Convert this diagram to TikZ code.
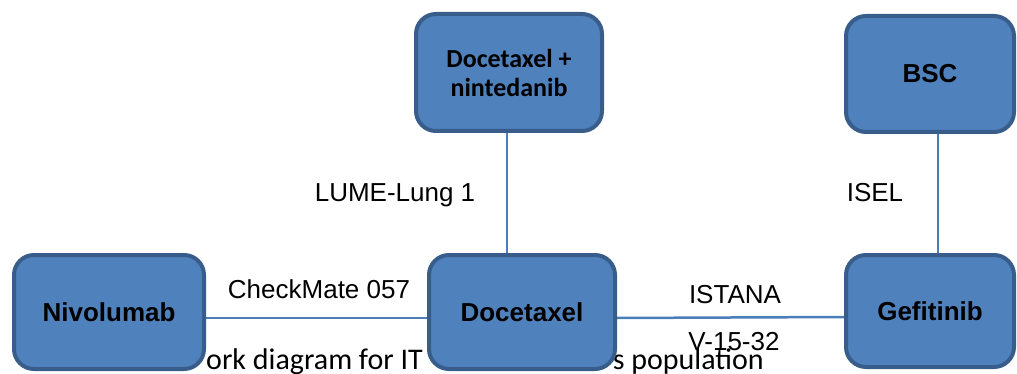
\documentclass[tikz,border=0pt]{standalone}
\usepackage{fontspec}
\setmainfont{Liberation Sans}
\newfontfamily\carlito{Carlito}
\definecolor{boxfill}{HTML}{4F81BD}
\definecolor{boxborder}{HTML}{385D8A}
\definecolor{connblue}{HTML}{4A7EBB}
\begin{document}
\begin{tikzpicture}[x=1pt,y=-1pt,
  box/.style={draw=boxborder, fill=boxfill, line width=4pt, rounded corners=20pt,
    inner sep=0pt, align=center, text=black,
    font=\fontsize{26}{29}\selectfont\bfseries},
  conn/.style={draw=connblue, line width=2.5pt},
  lbl/.style={font=\fontsize{26}{30}\selectfont, inner sep=0pt, anchor=base},
  captxt/.style={font=\carlito\fontsize{30}{36}\selectfont, inner sep=0pt}]
\useasboundingbox (0,0) rectangle (1017,374);
% caption fragments behind the boxes
\node[captxt, anchor=base west] (cap1) at (206,369) {ork diagram for IT};
\node[captxt, anchor=base east] (cap2) at (764,369) {s population};
% boxes (drawn on top later), define first as coordinates via nodes
\node[box, minimum width=190pt, minimum height=114pt] (nivo) at (109,312) {Nivolumab};
\node[box, minimum width=186pt, minimum height=114pt] (doce) at (522,312) {Docetaxel};
\node[box, minimum width=168pt, minimum height=112pt] (gefi) at (930,311) {Gefitinib};
\node[box, minimum width=186pt, minimum height=117pt, font=\carlito\fontsize{26}{29}\selectfont\bfseries] (dn) at (509,72.5) {Docetaxel +\\nintedanib};
\node[box, minimum width=168pt, minimum height=116pt] (bsc) at (930,74) {BSC};
% connectors
\draw[conn] ([xshift=-2pt]dn.south) -- ([xshift=-2pt]dn.south |- doce.north);
\draw[conn] ([xshift=8pt]bsc.south) -- ([xshift=8pt]gefi.north);
\draw[conn] ([yshift=-6pt]nivo.east) -- ([yshift=-6pt]doce.west);
\draw[conn] ([yshift=-6pt]doce.east) -- ([yshift=-6pt]gefi.west);
% labels
\node[lbl] (l1) at (395,202) {LUME-Lung 1};
\node[lbl] (l2) at (875,201) {ISEL};
\node[lbl] (l3) at (319,298) {CheckMate 057};
\node[lbl] (l4) at (735,303) {ISTANA};
\node[lbl] (l5) at (734,350) {V-15-32};
\end{tikzpicture}
\end{document}
